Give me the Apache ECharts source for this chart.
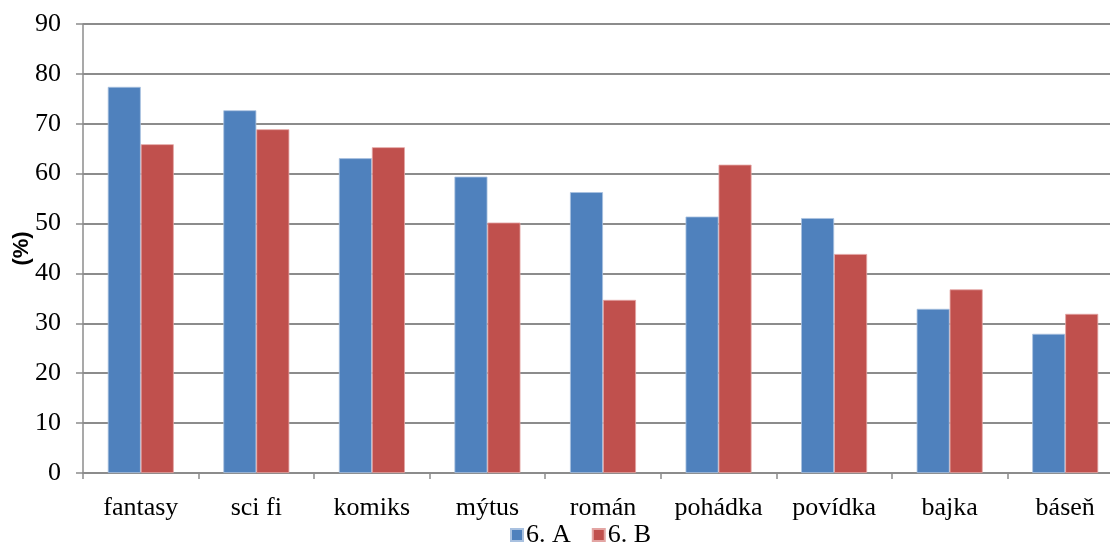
<!DOCTYPE html>
<html>
<head>
<meta charset="utf-8">
<script src="https://cdn.jsdelivr.net/npm/echarts@6/dist/echarts.min.js"></script>
<style>
  html, body { margin: 0; padding: 0; background: #fff; }
  #chart { width: 1110px; height: 542px; }
</style>
</head>
<body>
<div id="chart"></div>
<script>
// Reading preferences by genre, two classes (percent of pupils)
const categories = ['fantasy', 'sci fi', 'komiks', 'mýtus', 'román', 'pohádka', 'povídka', 'bajka', 'báseň'];
const classA = [77.4, 72.7, 63.1, 59.4, 56.3, 51.4, 51.1, 32.9, 27.9];
const classB = [65.9, 68.9, 65.3, 50.2, 34.7, 61.8, 43.9, 36.8, 31.9];
const seriesNames = ['6. A', '6. B'];
const yTicks = { min: 0, max: 90, interval: 10 };

const serif = '"Liberation Serif", "Times New Roman", serif';
const gridGray = '#8c8c8c';

const chart = echarts.init(document.getElementById('chart'), null, { renderer: 'canvas' });
chart.setOption({
  animation: false,
  backgroundColor: '#ffffff',
  // the plot runs a little past the right edge of the canvas
  grid: { left: 83, width: 1040, top: 24, bottom: 69, containLabel: false, outerBoundsMode: 'none' },
  legend: {
    data: seriesNames,
    left: 505,
    top: 517,
    itemWidth: 12,
    itemHeight: 12,
    itemGap: 21,
    icon: 'rect',
    textStyle: { fontFamily: serif, fontSize: 26, color: '#000', padding: [0, 0, 0, -2] }
  },
  xAxis: {
    type: 'category',
    data: categories,
    axisLine: { lineStyle: { color: gridGray, width: 1.5 } },
    axisTick: { show: true, interval: 0, length: 6, lineStyle: { color: gridGray, width: 1.5 } },
    axisLabel: { fontFamily: serif, fontSize: 26, color: '#000', margin: 22, interval: 0 }
  },
  yAxis: {
    type: 'value',
    min: yTicks.min,
    max: yTicks.max,
    interval: yTicks.interval,
    name: '(%)',
    nameLocation: 'middle',
    nameRotate: 90,
    nameGap: 50,
    nameMoveOverlap: false,
    nameTextStyle: { fontFamily: '"Liberation Sans", Arial, sans-serif', fontWeight: 'bold', fontSize: 22, color: '#000' },
    axisLine: { show: true, lineStyle: { color: gridGray, width: 1.5 } },
    axisTick: { show: true, length: 7, lineStyle: { color: gridGray, width: 1.5 } },
    axisLabel: { fontFamily: serif, fontSize: 26, color: '#000', margin: 22 },
    splitLine: { show: true, lineStyle: { color: gridGray, width: 2 } }
  },
  series: [
    {
      name: seriesNames[0],
      type: 'bar',
      data: classA,
      barWidth: 33,
      barGap: '0%',
      itemStyle: { color: '#4f81bd', borderColor: '#a9c1e0', borderWidth: 0.8 }
    },
    {
      name: seriesNames[1],
      type: 'bar',
      data: classB,
      barWidth: 33,
      barGap: '0%',
      itemStyle: { color: '#c0504d', borderColor: '#e3a5a3', borderWidth: 0.8 }
    }
  ]
});
</script>
</body>
</html>
